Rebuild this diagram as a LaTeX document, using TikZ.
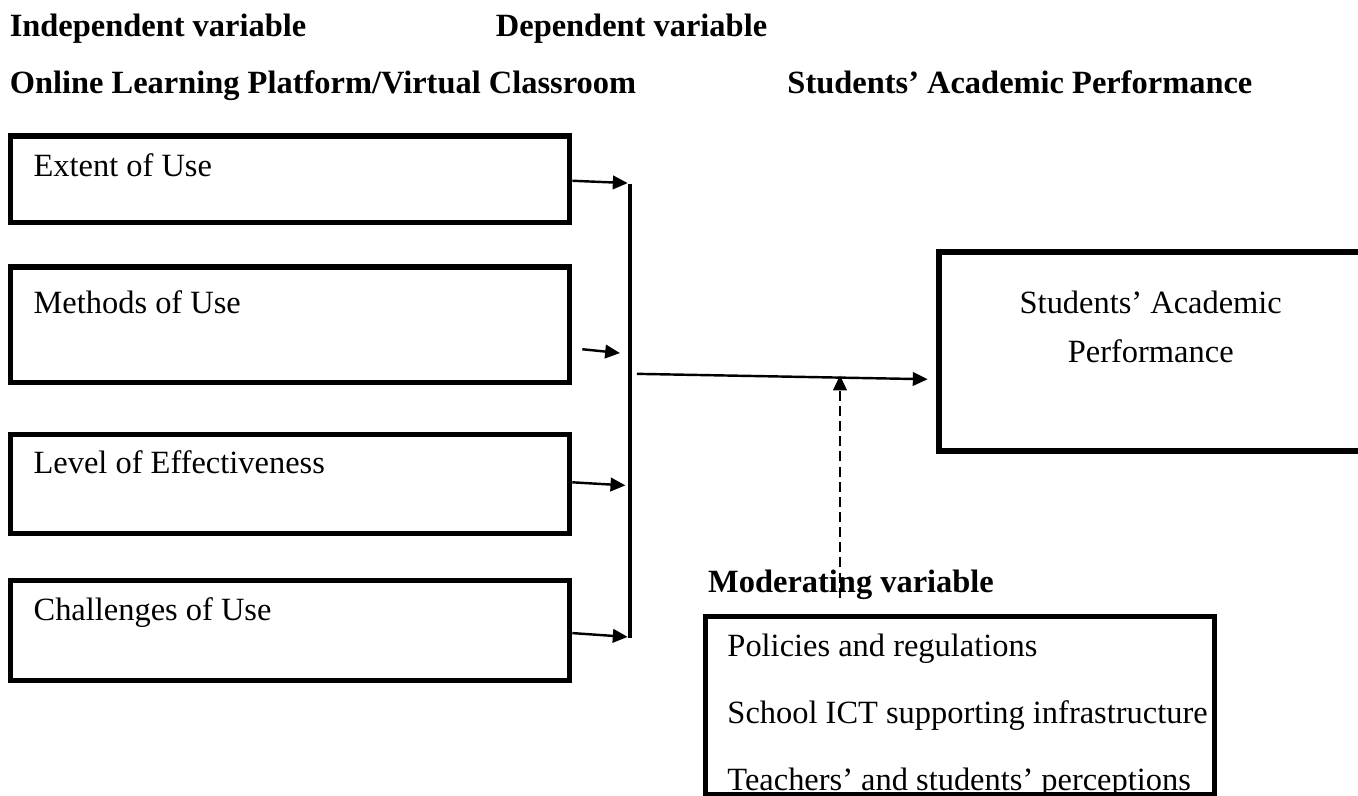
\documentclass[tikz,border=0pt]{standalone}
\usepackage{fontspec}
\setmainfont{Liberation Serif}
\usetikzlibrary{arrows.meta}
\pgfdeclarelayer{edgelayer}
\pgfdeclarelayer{nodelayer}
\pgfsetlayers{edgelayer,nodelayer,main}
\tikzstyle{none}=[inner sep=0pt]
\tikzstyle{heading}=[inner sep=0pt, anchor=base west, font=\bfseries\fontsize{12}{14}\selectfont]
\tikzstyle{plain}=[inner sep=0pt, anchor=base west, font=\fontsize{12}{14}\selectfont]
\tikzstyle{box}=[draw, line width=2pt, inner sep=0pt, minimum width=7.26cm]
\tikzstyle{link}=[->, >={Triangle[length=5.5pt, width=5pt]}, line width=0.9pt]
\tikzstyle{bar}=[line width=1.2pt]
\tikzstyle{moderator}=[->, >={Triangle[length=5.5pt, width=5pt]}, line width=0.8pt, dash pattern=on 3.7pt off 1.9pt]

\begin{document}
\begin{tikzpicture}
	\useasboundingbox (0, 0) rectangle (17.654, -10.348);
	\begin{pgfonlayer}{nodelayer}
		\node [style=heading] (0) at (0.12, -0.48) {Independent variable};
		\node [style=heading] (1) at (6.44, -0.48) {Dependent variable};
		\node [style=heading] (2) at (0.12, -1.22) {Online Learning Platform/Virtual Classroom};
		\node [style=heading] (3) at (10.23, -1.22) {Students’ Academic Performance};
		\node [style=box, minimum height=1.12cm] (4) at (3.77, -2.33) {};
		\node [style=box, minimum height=1.50cm] (5) at (3.77, -4.22) {};
		\node [style=box, minimum height=1.29cm] (6) at (3.77, -6.29) {};
		\node [style=box, minimum height=1.30cm] (7) at (3.77, -8.20) {};
		\node [style=plain] (8) at (0.43, -2.30) {Extent of Use};
		\node [style=plain] (9) at (0.43, -4.07) {Methods of Use};
		\node [style=plain] (10) at (0.43, -6.15) {Level of Effectiveness};
		\node [style=plain] (11) at (0.43, -8.06) {Challenges of Use};
		\node [style=none] (12) at (7.44, -2.35) {};
		\node [style=none] (13) at (8.16, -2.38) {};
		\node [style=none] (14) at (7.57, -4.54) {};
		\node [style=none] (15) at (8.06, -4.59) {};
		\node [style=none] (16) at (7.44, -6.27) {};
		\node [style=none] (17) at (8.13, -6.31) {};
		\node [style=none] (18) at (7.44, -8.23) {};
		\node [style=none] (19) at (8.16, -8.28) {};
		\node [style=none] (20) at (8.19, -2.39) {};
		\node [style=none] (21) at (8.19, -8.29) {};
		\node [style=none] (22) at (8.28, -4.86) {};
		\node [style=none] (23) at (12.06, -4.93) {};
		\node [style=box, minimum width=5.99cm, minimum height=2.59cm] (24) at (15.20, -4.57) {};
		\node [style=plain, anchor=base] (25) at (14.96, -4.07) {Students’ Academic};
		\node [style=plain, anchor=base] (26) at (14.96, -4.71) {Performance};
		\node [style=heading] (27) at (9.20, -7.70) {Moderating variable};
		\node [style=none] (28) at (10.92, -7.77) {};
		\node [style=none] (29) at (10.92, -4.88) {};
		\node [style=plain] (30) at (9.45, -8.53) {Policies and regulations};
		\node [style=plain] (31) at (9.45, -9.40) {School ICT supporting infrastructure};
		\node [style=plain] (32) at (9.45, -10.27) {Teachers’ and students’ perceptions};
		\node [style=box, minimum width=6.62cm, minimum height=2.31cm] (33) at (12.48, -9.17) {};
	\end{pgfonlayer}
	\begin{pgfonlayer}{edgelayer}
		\draw [style=link] (12.center) to (13.center);
		\draw [style=link] (14.center) to (15.center);
		\draw [style=link] (16.center) to (17.center);
		\draw [style=link] (18.center) to (19.center);
		\draw [style=bar] (20.center) to (21.center);
		\draw [style=link] (22.center) to (23.center);
		\draw [style=moderator] (28.center) to (29.center);
	\end{pgfonlayer}
\end{tikzpicture}
\end{document}
